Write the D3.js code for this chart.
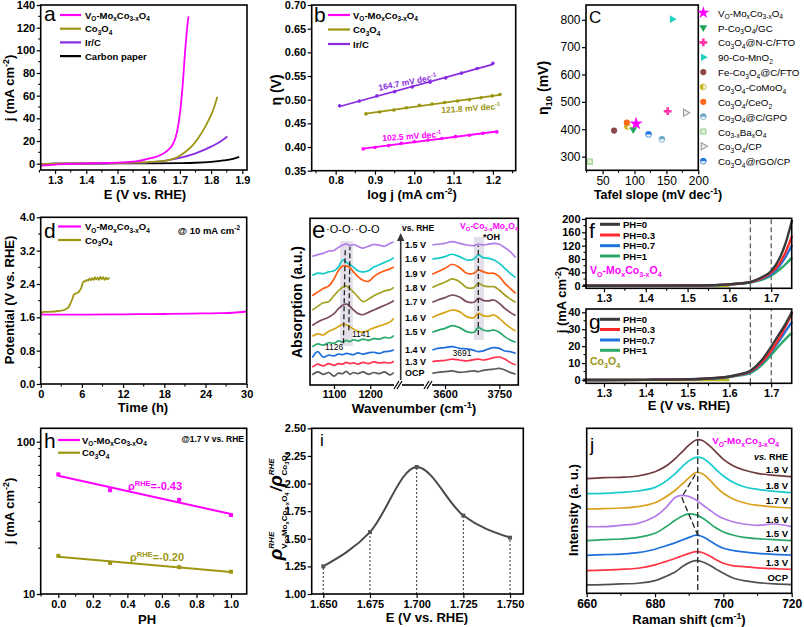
<!DOCTYPE html>
<html><head><meta charset="utf-8">
<script src="https://cdn.jsdelivr.net/npm/d3@7"></script>
<style>
body{margin:0;background:#fff}
svg{display:block;background:#fff}
</style></head><body>
<svg id="c" width="804" height="627"></svg>
<script>
// ---------------- DATA ----------------
// Panel a: LSV curves
const aVoE = [1.254,1.3,1.35,1.4,1.45,1.5,1.53,1.56,1.58,1.6,1.62,1.64,1.66,1.68,1.69,1.70,1.705,1.71,1.716,1.72,1.724,1.728];
const aVoJ = [-1.8,-0.8,-0.2,0.2,0.5,0.9,1.4,2.1,3.0,4.4,5.8,7.8,11.5,18.5,27,44,57,73,97,110,122,130];
const aCoE = [1.254,1.3,1.4,1.5,1.55,1.6,1.65,1.68,1.7,1.72,1.74,1.76,1.78,1.8,1.81,1.82];
const aCoJ = [-0.5,0,0.3,0.6,0.9,1.4,2.5,4.5,7,11,16,23,32,43,50,59];
const aIrE = [1.254,1.3,1.4,1.5,1.55,1.6,1.65,1.7,1.75,1.8,1.83,1.852];
const aIrJ = [-0.5,0,0.2,0.4,0.7,1.2,2.5,5,9,15,19.5,24];
const aCpE = [1.254,1.3,1.4,1.5,1.6,1.7,1.75,1.8,1.84,1.87,1.89];
const aCpJ = [-0.3,0,0.1,0.2,0.3,0.5,0.8,1.6,2.8,4.3,6];
const aNames = ["V_{O}-Mo_{x}Co_{3-x}O_{4}","Co_{3}O_{4}","Ir/C","Carbon paper"];
// Panel b: Tafel
const bVoX = [0.87,0.90,0.935,0.967,1.0,1.035,1.07,1.105,1.14,1.175,1.21];
const bVoY = [0.396,0.399,0.403,0.408,0.411,0.415,0.418,0.422,0.425,0.429,0.432];
const bCoX = [0.877,0.912,0.948,0.98,1.013,1.045,1.077,1.11,1.14,1.17,1.198,1.218];
const bCoY = [0.470,0.474,0.478,0.483,0.488,0.491,0.494,0.497,0.500,0.504,0.508,0.511];
const bIrX = [0.81,0.86,0.905,0.95,0.995,1.04,1.08,1.12,1.16,1.2];
const bIrY = [0.487,0.497,0.508,0.517,0.527,0.537,0.546,0.556,0.566,0.577];
const bSlopes = ["102.5 mV dec^{-1}","121.8 mV dec^{-1}","164.7 mV dec^{-1}"];
// Panel c: comparison
const cNames = ["V_{O}-Mo_{x}Co_{3-x}O_{4}","P-Co_{3}O_{4}/GC","Co_{3}O_{4}@N-C/FTO","90-Co-MnO_{2}","Fe-Co_{3}O_{4}@C/FTO","Co_{3}O_{4}-CoMoO_{4}","Co_{3}O_{4}/CeO_{2}","Co_{3}O_{4}@C/GPO","Co_{3-x}Ba_{x}O_{4}","Co_{3}O_{4}/CP","Co_{3}O_{4}@rGO/CP"];
const cTafel = [102.5,98,152,159,68,89,88,143,30,180,122];
const cEta = [420,399,466,802,395,410,424,363,282,460,381];
// Panel d: stability
const dVoT = [0,1,3,6,10,14,18,22,26,28,30];
const dVoV = [1.67,1.665,1.665,1.665,1.67,1.675,1.68,1.69,1.70,1.71,1.74];
const dCoT = [0,0.5,1,2,3,3.5,4,4.3,4.6,4.8,5,5.3,5.6,5.9,6.1,6.3,6.5,6.7,6.9,7.1,7.3,7.5,7.7,7.9,8.1,8.3,8.5,8.7,8.9,9.1,9.3,9.5,9.7,9.9,10];
const dCoV = [1.71,1.73,1.73,1.74,1.76,1.78,1.83,1.92,2.04,2.14,2.17,2.18,2.22,2.3,2.42,2.47,2.46,2.5,2.48,2.53,2.49,2.54,2.5,2.56,2.51,2.55,2.5,2.57,2.52,2.56,2.5,2.55,2.51,2.54,2.52];
// Panel e: in-situ FTIR (top to bottom)
const eWL = [1040,1055,1070,1085,1100,1112,1124,1134,1144,1154,1166,1180,1195,1210,1225,1240,1255,1265];
const eWR = [3565,3580,3600,3620,3640,3660,3680,3692,3705,3720,3735,3750,3765,3780,3795];
const eLabels = ["1.5 V","1.6 V","1.9 V","1.8 V","1.7 V","1.6 V","1.5 V","1.4 V","1.3 V","OCP"];
const eL = [
 [10.8,10.95,11.05,11.25,11.3,11.55,11.75,11.85,11.7,11.8,11.65,11.5,11.65,11.8,11.75,11.65,11.9,12.0],
 [9.2,9.4,9.35,9.5,9.6,9.9,10.5,10.3,10.1,9.9,9.6,9.5,9.6,9.9,10.1,10.3,10.5,10.7],
 [7.5,7.8,8.1,8.3,8.9,9.6,10.0,10.0,9.85,9.5,9.1,8.8,8.7,9.1,9.4,9.6,9.75,9.9],
 [6.3,6.6,6.9,7.0,7.5,7.9,8.2,8.3,8.1,7.8,7.4,7.0,7.2,7.5,7.7,7.9,8.0,8.2],
 [5.0,5.3,5.5,5.7,6.0,6.4,6.7,6.8,6.6,6.3,6.0,5.9,6.1,6.3,6.5,6.7,6.9,7.1],
 [4.1,4.3,4.2,4.5,4.7,4.9,5.1,5.05,4.9,4.7,4.5,4.45,4.6,4.8,4.95,5.1,5.3,5.6],
 [3.2,3.45,3.35,3.55,3.5,3.7,3.6,3.75,3.65,3.8,3.7,3.85,3.75,3.9,3.85,4.0,3.95,4.15],
 [2.3,2.8,2.35,2.5,2.45,2.6,2.55,2.65,2.6,2.55,2.7,2.6,2.7,2.75,2.65,2.8,2.85,2.95],
 [1.5,1.75,1.6,1.8,1.65,1.8,1.75,1.9,1.8,1.85,1.75,1.9,1.8,1.95,1.85,1.9,1.85,2.0],
 [0.85,1.1,0.9,1.05,0.75,1.0,0.95,1.15,0.9,1.05,0.95,1.1,0.9,1.05,0.95,1.1,0.85,1.05]
];
const eR = [
 [11.76,11.82,11.9,12.04,11.9,11.76,11.71,11.82,11.76,11.82,11.9,11.82,11.54,11.2,10.7],
 [10.59,10.64,10.78,10.98,10.78,10.5,10.59,10.92,10.7,10.64,10.5,10.22,9.8,9.38,9.02],
 [9.3,9.52,9.8,10.14,9.86,9.38,9.38,9.66,9.52,9.38,9.38,9.1,8.54,8.12,7.7],
 [8.18,8.4,8.63,8.91,8.68,8.18,8.18,8.54,8.35,8.26,8.26,7.98,7.56,7.23,6.95],
 [6.95,7.14,7.34,7.56,7.39,7.0,6.95,7.28,7.11,7.06,7.14,6.86,6.44,6.1,5.83],
 [5.66,5.88,6.1,6.3,6.16,5.74,5.66,6.02,5.83,5.77,5.88,5.6,5.18,4.82,4.54],
 [4.43,4.59,4.76,4.99,4.82,4.48,4.43,4.82,4.62,4.54,4.62,4.43,4.06,3.78,3.59],
 [2.94,3.08,3.14,3.22,3.08,3.03,2.91,2.8,2.86,3.03,3.14,3.08,2.86,2.8,2.66],
 [1.96,2.02,2.07,2.18,2.1,2.02,2.13,2.18,2.1,2.18,2.3,2.35,2.18,1.9,1.68],
 [0.98,1.06,1.12,1.18,1.06,1.12,1.18,1.12,1.23,1.29,1.34,1.4,1.26,1.06,0.9]
];
// Panel f/g: pH dependent LSV
const fgE = [1.25,1.3,1.4,1.5,1.55,1.6,1.625,1.65,1.675,1.7,1.72,1.735,1.75];
const fgNames = ["PH=0","PH=0.3","PH=0.7","PH=1"];
const fJ = [
 [0,0,0.2,0.6,1.5,4,6.5,11,24,44,82,130,197],
 [0,0,0.2,0.6,1.5,4,6.5,10.5,21,39,67,102,150],
 [0,0,0.2,0.6,1.5,4,6.3,10,19.5,35,60,88,122],
 [0,0,0.2,0.6,1.5,3.8,6,9.5,17,30,48,65,85]
];
const gJ = [
 [0,0,0.1,0.4,0.9,2.1,3.4,5.5,11,19.7,27.5,33.5,40.5],
 [0,0,0.1,0.4,0.9,2.0,3.2,5.0,9.8,17.3,25,32,39.5],
 [0,0,0.1,0.4,0.9,1.9,3.0,4.6,9.3,16.7,23.5,29,34.5],
 [0,0,0.1,0.4,0.8,1.8,2.7,4.0,8.3,14.8,20.5,24.5,28]
];
const fgMarks = [1.65,1.70];
// Panel h
const hPH = [0,0.3,0.7,1.0];
const hVo = [61,48,41.5,33];
const hCo = [17.8,16.0,15.0,14.0];
// Panel i
const iE = [1.65,1.675,1.70,1.725,1.75];
const iR = [1.25,1.56,2.15,1.71,1.51];
// Panel j: Raman (bottom to top)
const jX = [660,665,670,675,680,683,686,688,690,692,694,696,698,700,703,706,710,715,720];
const jLabels = ["OCP","1.3 V","1.4 V","1.5 V","1.6 V","1.7 V","1.8 V","1.9 V"];
const jI = [
 [0.51,0.53,0.57,0.61,0.77,1.01,1.31,1.62,1.86,1.98,1.9,1.7,1.45,1.21,0.91,0.77,0.65,0.57,0.53],
 [1.37,1.41,1.45,1.52,1.72,1.92,2.12,2.28,2.42,2.53,2.46,2.26,2.02,1.82,1.66,1.62,1.54,1.49,1.45],
 [2.3,2.34,2.38,2.46,2.67,2.87,3.07,3.23,3.39,3.52,3.43,3.19,2.93,2.73,2.59,2.51,2.42,2.36,2.32],
 [3.19,3.25,3.29,3.39,3.64,4.0,4.44,4.69,4.81,4.75,4.55,4.24,3.94,3.72,3.52,3.39,3.31,3.25,3.19],
 [4.04,4.04,4.12,4.24,4.65,5.15,5.82,5.94,5.86,5.66,5.35,5.05,4.75,4.53,4.32,4.2,4.12,4.2,4.04],
 [5.11,5.13,5.17,5.25,5.49,5.82,6.26,6.63,7.01,7.33,7.23,6.87,6.42,6.06,5.7,5.49,5.33,5.23,5.17],
 [6.04,6.06,6.12,6.2,6.42,6.77,7.27,7.68,8.04,8.24,8.18,7.88,7.47,7.11,6.71,6.46,6.3,6.18,6.1],
 [6.95,7.01,7.03,7.11,7.37,7.68,8.18,8.59,8.99,9.29,9.25,8.93,8.53,8.12,7.72,7.47,7.27,7.15,7.07]
];
const jPeakPath = [[692.6,3.47],[687.8,5.82],[691.8,7.2]];

// ---------------- HELPERS ----------------
const FF = '"Liberation Sans", Arial, Helvetica, sans-serif';
const svg = d3.select('#c');
const MAG = '#ff00ff', OLV = '#9c9612', PUR = '#8a2be2';

function rich(t, str, fs) {
  const parts = str.split(/(_\{[^}]*\}|\^\{[^}]*\})/).filter(s => s.length);
  let shift = 0;
  parts.forEach(p => {
    let ns = 0, size = fs, c = p;
    if (p.startsWith('_{')) { ns = 0.28 * fs; size = 0.68 * fs; c = p.slice(2, -1); }
    else if (p.startsWith('^{')) { ns = -0.4 * fs; size = 0.68 * fs; c = p.slice(2, -1); }
    t.append('tspan').attr('dy', ns - shift).attr('font-size', size).text(c);
    shift = ns;
  });
}
function txt(x, y, str, o = {}) {
  const fs = o.fs || 12;
  const t = svg.append('text').attr('x', x).attr('y', y)
    .attr('font-family', FF).attr('font-size', fs)
    .attr('font-weight', o.fw || 'bold').attr('fill', o.fill || '#000')
    .attr('text-anchor', o.anchor || 'start');
  if (o.style) t.attr('font-style', o.style);
  if (o.rot) t.attr('transform', `rotate(${o.rot},${x},${y})`);
  rich(t, str, fs);
  return t;
}
function styleAxis(g, fs, fw) {
  g.attr('font-family', FF).attr('font-size', fs).attr('font-weight', fw);
  g.select('.domain').remove();
  g.selectAll('line').attr('stroke', '#000').attr('stroke-width', 1.2);
  g.selectAll('text').attr('fill', '#000');
}
function axes(x, y, o) {
  const [x0, x1] = x.range(), [y0, y1] = y.range();
  const fs = o.fs || 11, fw = o.fw || 'bold';
  if (o.xt) {
    const g = svg.append('g').attr('transform', `translate(0,${y0})`)
      .call(d3.axisBottom(x).tickValues(o.xt).tickFormat(o.xf || d3.format('d')).tickSize(4).tickPadding(2).tickSizeOuter(0));
    styleAxis(g, fs, fw);
    if (o.xm) g.selectAll('line.mn').data(o.xm).enter().append('line').attr('class', 'mn')
      .attr('x1', d => x(d)).attr('x2', d => x(d)).attr('y1', 0).attr('y2', 2.5).attr('stroke', '#000').attr('stroke-width', 1.1);
  }
  if (o.yt) {
    const g = svg.append('g').attr('transform', `translate(${x0},0)`)
      .call(d3.axisLeft(y).tickValues(o.yt).tickFormat(o.yf || d3.format('d')).tickSize(4).tickPadding(1.5).tickSizeOuter(0));
    styleAxis(g, fs, fw);
    if (o.ym) g.selectAll('line.mn').data(o.ym).enter().append('line').attr('class', 'mn')
      .attr('y1', d => y(d)).attr('y2', d => y(d)).attr('x1', 0).attr('x2', -2.5).attr('stroke', '#000').attr('stroke-width', 1.1);
  }
  svg.append('rect').attr('x', x0).attr('y', y1).attr('width', x1 - x0).attr('height', y0 - y1)
    .attr('fill', 'none').attr('stroke', '#000').attr('stroke-width', 1.6);
}
function path(xs, ys, x, y, color, w, curve, extra) {
  const line = d3.line().x(d => x(d[0])).y(d => y(d[1])).curve(curve || d3.curveLinear);
  const p = svg.append('path').datum(xs.map((v, i) => [v, ys[i]])).attr('d', line)
    .attr('fill', 'none').attr('stroke', color).attr('stroke-width', w || 2).attr('stroke-linejoin', 'round');
  if (extra) p.attr('stroke-dasharray', extra);
  return p;
}
function legLine(x1, x2, y, color, w) {
  svg.append('line').attr('x1', x1).attr('x2', x2).attr('y1', y).attr('y2', y).attr('stroke', color).attr('stroke-width', w || 2.2);
}
function fit(xs, ys) {
  const mx = d3.mean(xs), my = d3.mean(ys);
  let sxy = 0, sxx = 0;
  xs.forEach((v, i) => { sxy += (v - mx) * (ys[i] - my); sxx += (v - mx) * (v - mx); });
  const b = sxy / sxx; return [b, my - b * mx];
}

// ---------------- PANEL a ----------------
{
  const x = d3.scaleLinear([1.254, 1.915], [40.7, 247]);
  const y = d3.scaleLinear([-5.6, 140], [170, 5]);
  const cv = d3.curveMonotoneX;
  path(aCpE, aCpJ, x, y, '#000', 1.8, cv);
  path(aIrE, aIrJ, x, y, PUR, 1.8, cv);
  path(aCoE, aCoJ, x, y, OLV, 1.8, cv);
  path(aVoE, aVoJ, x, y, MAG, 1.8, cv);
  axes(x, y, { xt: [1.3,1.4,1.5,1.6,1.7,1.8,1.9], xf: d3.format('.1f'), xm: [1.25,1.35,1.45,1.55,1.65,1.75,1.85],
    yt: [0,20,40,60,80,100,120,140], ym: [10,30,50,70,90,110,130] });
  const cols = [MAG, OLV, PUR, '#000'];
  aNames.forEach((n, i) => { const yy = 15 + i * 13.7; legLine(60, 81, yy, cols[i], 2.2); txt(85, yy + 3.5, n, { fs: 9.5 }); });
  txt(44, 21, 'a', { fs: 21, fw: 'normal' });
  txt(145, 199, 'E (V vs. RHE)', { fs: 13, anchor: 'middle' });
  txt(14, 88, 'j (mA cm^{-2})', { fs: 13, anchor: 'middle', rot: -90 });
}
// ---------------- PANEL b ----------------
{
  const x = d3.scaleLinear([0.739, 1.258], [311.7, 515.7]);
  const y = d3.scaleLinear([0.35, 0.70], [170.7, 5]);
  const sets = [[bVoX, bVoY, MAG], [bCoX, bCoY, OLV], [bIrX, bIrY, PUR]];
  sets.forEach(([xs, ys, c]) => {
    const [b, a] = fit(xs, ys); const xe = d3.extent(xs);
    path(xe, xe.map(v => a + b * v), x, y, c, 1.8);
    svg.append('g').selectAll('circle').data(xs).enter().append('circle')
      .attr('cx', d => x(d)).attr('cy', (d, i) => y(ys[i])).attr('r', 1.8).attr('fill', c);
  });
  axes(x, y, { xt: [0.8,0.9,1.0,1.1,1.2], xf: d3.format('.1f'), xm: [0.75,0.85,0.95,1.05,1.15,1.25],
    yt: [0.35,0.40,0.45,0.50,0.55,0.60,0.65,0.70], yf: d3.format('.2f') });
  const cols = [MAG, OLV, PUR]; const nm = aNames.slice(0, 3);
  nm.forEach((n, i) => { const yy = 15 + i * 14.5; legLine(328, 350, yy, cols[i], 2.2); txt(353, yy + 3.5, n, { fs: 9.5 }); });
  txt(412, 139, bSlopes[0], { fs: 8.5, fill: MAG, anchor: 'middle', rot: -4 });
  txt(471, 111, bSlopes[1], { fs: 8.5, fill: OLV, anchor: 'middle', rot: -4 });
  txt(408, 85, bSlopes[2], { fs: 8.5, fill: PUR, anchor: 'middle', rot: -11 });
  txt(314, 22, 'b', { fs: 21, fw: 'normal' });
  txt(412, 199, 'log j (mA cm^{-2})', { fs: 13, anchor: 'middle' });
  txt(281, 90, 'η (V)', { fs: 14, anchor: 'middle', rot: -90 });
}
// ---------------- PANEL c ----------------
{
  const x = d3.scaleLinear([24, 200], [586, 698.3]);
  const y = d3.scaleLinear([250, 854], [170.3, 5]);
  const cols = [MAG,'#21a35a','#ff33aa','#22d0c0','#8e4a4a','#c9b81c','#ff6a1a','#6aa7c9','#9fd39a','#9a9a9a','#2277dd'];
  const types = ['star','tridown','cross','triright','circle','halfL','circle','halfT','square','trirightH','halfT'];
  function mk(g, t, c) {
    if (t === 'star') g.append('path').attr('d', d3.symbol(d3.symbolStar, 48)()).attr('fill', c);
    else if (t === 'tridown') g.append('path').attr('d', d3.symbol(d3.symbolTriangle, 26)()).attr('transform', 'rotate(180)').attr('fill', c);
    else if (t === 'triright') g.append('path').attr('d', d3.symbol(d3.symbolTriangle, 26)()).attr('transform', 'rotate(90)').attr('fill', c);
    else if (t === 'trirightH') g.append('path').attr('d', d3.symbol(d3.symbolTriangle, 22)()).attr('transform', 'rotate(90)').attr('fill', '#eee').attr('stroke', c).attr('stroke-width', 1.1);
    else if (t === 'cross') g.append('path').attr('d', d3.symbol(d3.symbolCross, 34)()).attr('fill', c);
    else if (t === 'square') g.append('path').attr('d', d3.symbol(d3.symbolSquare, 24)()).attr('fill', '#e6f3d8').attr('stroke', c).attr('stroke-width', 1.3);
    else if (t === 'circle') g.append('circle').attr('r', 3.1).attr('fill', c);
    else if (t === 'halfL' || t === 'halfT') {
      g.append('circle').attr('r', 2.9).attr('fill', '#f4f4f4').attr('stroke', c).attr('stroke-width', 0.8);
      g.append('path').attr('d', 'M-3.1,0 A3.1,3.1 0 0 1 3.1,0 Z').attr('fill', c).attr('transform', t === 'halfL' ? 'rotate(-90)' : null);
    }
  }
  cTafel.forEach((v, i) => mk(svg.append('g').attr('transform', `translate(${x(v)},${y(cEta[i])})`), types[i], cols[i]));
  mk(svg.append('g').attr('transform', `translate(${x(cTafel[0])},${y(cEta[0])})`), 'star', MAG);
  axes(x, y, { xt: [50,100,150,200], xm: [25,75,125,175], yt: [300,400,500,600,700,800], fs: 12, fw: 'normal' });
  cNames.forEach((n, i) => {
    const yy = 12.7 + i * 14.85;
    mk(svg.append('g').attr('transform', `translate(703.3,${yy})`), types[i], cols[i]);
    txt(718, yy + 4, n, { fs: 9.8, fw: 'normal' });
  });
  txt(589, 23, 'C', { fs: 17, fw: 'normal' });
  txt(658, 199, 'Tafel slope (mV dec^{-1})', { fs: 12.5, anchor: 'middle' });
  txt(548, 88, 'η_{10} (mV)', { fs: 14, anchor: 'middle', rot: -90 });
}
// ---------------- PANEL d ----------------
{
  const x = d3.scaleLinear([0, 30], [40.7, 246.7]);
  const y = d3.scaleLinear([0, 4], [384, 217.3]);
  path(dCoT, dCoV, x, y, OLV, 1.8);
  path(dVoT, dVoV, x, y, MAG, 1.8, d3.curveMonotoneX);
  axes(x, y, { xt: [0,6,12,18,24,30], xm: [3,9,15,21,27], yt: [0,0.8,1.6,2.4,3.2,4.0], yf: d3.format('.1f'), ym: [0.4,1.2,2.0,2.8,3.6] });
  legLine(58, 81, 226.5, MAG, 2.2); txt(85, 230, aNames[0], { fs: 9.5 });
  legLine(58, 81, 240, OLV, 2.2); txt(85, 243.5, aNames[1], { fs: 9.5 });
  txt(240, 234, '@ 10 mA cm^{-2}', { fs: 9.5, anchor: 'end' });
  txt(44, 238, 'd', { fs: 21, fw: 'normal' });
  txt(143, 412, 'Time (h)', { fs: 13, anchor: 'middle' });
  txt(14, 300, 'Potential (V vs. RHE)', { fs: 13, anchor: 'middle', rot: -90 });
}
// ---------------- PANEL e ----------------
{
  const xl = d3.scaleLinear([1033.7, 1276.8], [310, 398]);
  const xr = d3.scaleLinear([3553, 3802.5], [428, 518.3]);
  const y = d3.scaleLinear([0, 14], [385, 218.3]);
  const cols = ['#b07ee6','#16c9c9','#ff5a12','#a3a023','#7b4a5c','#d9a316','#25a86a','#1f6fdc','#ff3350','#5a5a5a'];
  svg.append('rect').attr('x', xl(1117)).attr('y', 241).attr('width', xl(1152) - xl(1117)).attr('height', 105).attr('fill', '#e3e0ea');
  svg.append('rect').attr('x', xr(3680)).attr('y', 237).attr('width', xr(3708) - xr(3680)).attr('height', 103).attr('fill', '#e3e0ea');
  const cv = d3.curveCatmullRom;
  eL.forEach((c, i) => path(eWL, c, xl, y, cols[i], 1.7, cv));
  eR.forEach((c, i) => path(eWR, c, xr, y, cols[i], 1.7, cv));
  svg.append('line').attr('x1', xl(1126)).attr('y1', y(3.5)).attr('x2', xl(1131)).attr('y2', y(11.4)).attr('stroke', '#222').attr('stroke-width', 1.3).attr('stroke-dasharray', '5,3');
  svg.append('line').attr('x1', xl(1141)).attr('y1', y(4.6)).attr('x2', xl(1144)).attr('y2', y(11.6)).attr('stroke', '#222').attr('stroke-width', 1.3).attr('stroke-dasharray', '5,3');
  svg.append('line').attr('x1', xr(3692)).attr('y1', y(4.2)).attr('x2', xr(3692)).attr('y2', y(11.7)).attr('stroke', '#222').attr('stroke-width', 1.3).attr('stroke-dasharray', '5,3');
  const gl = svg.append('g').attr('transform', 'translate(0,385)').call(d3.axisBottom(xl).tickValues([1100,1200]).tickFormat(d3.format('d')).tickSize(4).tickPadding(1).tickSizeOuter(0));
  styleAxis(gl, 11, 'bold');
  const gr = svg.append('g').attr('transform', 'translate(0,385)').call(d3.axisBottom(xr).tickValues([3600,3750]).tickFormat(d3.format('d')).tickSize(4).tickPadding(1).tickSizeOuter(0));
  styleAxis(gr, 11, 'bold');
  svg.append('rect').attr('x', 310).attr('y', 218.3).attr('width', 208.3).attr('height', 166.7).attr('fill', 'none').attr('stroke', '#000').attr('stroke-width', 1.6);
  [398, 428].forEach(bx => {
    svg.append('rect').attr('x', bx - 4).attr('y', 381).attr('width', 8).attr('height', 8).attr('fill', '#fff');
    [-1.5, 1.5].forEach(d => svg.append('line').attr('x1', bx + d - 2.5).attr('y1', 389).attr('x2', bx + d + 2.5).attr('y2', 381).attr('stroke', '#000').attr('stroke-width', 1.2));
  });
  svg.append('line').attr('x1', 400.7).attr('x2', 400.7).attr('y1', 380).attr('y2', 240).attr('stroke', '#333').attr('stroke-width', 1.6);
  svg.append('path').attr('d', 'M397,241 L400.7,233 L404.4,241 Z').attr('fill', '#333');
  eLabels.forEach((l, i) => txt(405, y(eR[i][0]) + 3, l, { fs: 9 }));
  txt(402, 231, 'vs. RHE', { fs: 8.5 });
  txt(460, 229, 'V_{O}-Co_{3-x}Mo_{x}O_{4}', { fs: 8.5, fill: MAG });
  txt(483, 240, '*OH', { fs: 9 });
  txt(462, 356, '3691', { fs: 8.5, fw: 'normal', anchor: 'middle' });
  txt(352, 337, '1141', { fs: 8.5, fw: 'normal' });
  txt(325, 350, '1126', { fs: 8.5, fw: 'normal' });
  txt(326, 233, '·O-O·', { fs: 11, fw: 'normal' });
  txt(355, 233, '·O-O', { fs: 11, fw: 'normal' });
  txt(312, 238, 'e', { fs: 24, fw: 'normal' });
  txt(414, 413, 'Wavenumber (cm^{-1})', { fs: 13.5, anchor: 'middle' });
  txt(302, 302, 'Absorption (a.u.)', { fs: 14, anchor: 'middle', rot: -90 });
}
// ---------------- PANEL f & g ----------------
{
  const x = d3.scaleLinear([1.257, 1.749], [586, 791.7]);
  const yf = d3.scaleLinear([-7.8, 202], [288.3, 218.3]);
  const yg = d3.scaleLinear([-1.95, 41.95], [383.3, 309]);
  const cols = ['#3a3a3a', '#ff2a2a', '#1f72e0', '#2aa86a'];
  const cv = d3.curveMonotoneX;
  [[yf, fJ], [yg, gJ]].forEach(([y, data]) => {
    fgMarks.forEach(m => svg.append('line').attr('x1', x(m)).attr('x2', x(m)).attr('y1', y.range()[0]).attr('y2', y.range()[1])
      .attr('stroke', '#444').attr('stroke-width', 1.1).attr('stroke-dasharray', '5,3'));
    path([1.257, 1.6], [0, 0], x, y, '#b8b820', 2.4);
    for (let i = data.length - 1; i >= 0; i--) path(fgE, data[i], x, y, cols[i], 2.4, cv);
  });
  axes(x, yf, { xt: [1.3,1.4,1.5,1.6,1.7], xf: d3.format('.1f'), xm: [1.35,1.45,1.55,1.65], yt: [0,40,80,120,160,200], ym: [20,60,100,140,180] });
  axes(x, yg, { xt: [1.3,1.4,1.5,1.6,1.7], xf: d3.format('.1f'), xm: [1.35,1.45,1.55,1.65], yt: [0,10,20,30,40], ym: [5,15,25,35] });
  const fy = [224.3, 235, 245.7, 256], gy = [319.3, 329.5, 340, 350.3];
  fgNames.forEach((n, i) => {
    legLine(600, 620, fy[i], cols[i], 3); txt(623, fy[i] + 3.5, n, { fs: 9.5 });
    legLine(600, 620, gy[i], cols[i], 3); txt(623, gy[i] + 3.5, n, { fs: 9.5 });
  });
  txt(590, 274, 'V_{O}-Mo_{x}Co_{3-x}O_{4}', { fs: 10.5, fill: MAG });
  txt(590, 365, 'Co_{3}O_{4}', { fs: 10.5, fill: OLV });
  txt(589, 238, 'f', { fs: 21, fw: 'normal' });
  txt(589, 329, 'g', { fs: 21, fw: 'normal' });
  txt(689, 410, 'E (V vs. RHE)', { fs: 13, anchor: 'middle' });
  txt(566, 300, 'j (mA cm^{-2})', { fs: 13, anchor: 'middle', rot: -90 });
}
// ---------------- PANEL h ----------------
{
  const x = d3.scaleLinear([-0.102, 1.091], [40.7, 246.7]);
  const y = d3.scaleLog([10, 122.4], [594, 428.3]);
  [[hVo, MAG], [hCo, OLV]].forEach(([ys, c]) => {
    const ly = ys.map(v => Math.log10(v));
    const [b, a] = fit(hPH, ly);
    path([0, 1], [0, 1].map(v => Math.pow(10, a + b * v)), x, y, c, 2);
    svg.append('g').selectAll('rect').data(hPH).enter().append('rect')
      .attr('x', d => x(d) - 2).attr('y', (d, i) => y(ys[i]) - 2).attr('width', 4).attr('height', 4).attr('fill', c);
  });
  axes(x, y, { xt: [0,0.2,0.4,0.6,0.8,1.0], xf: d3.format('.1f'), xm: [-0.1,0.1,0.3,0.5,0.7,0.9],
    yt: [10,100], yf: d3.format('d'), ym: [20,30,40,50,60,70,80,90] });
  legLine(58, 80, 440, MAG, 2.2); txt(82, 443.5, aNames[0], { fs: 9.5 });
  legLine(58, 80, 452.7, OLV, 2.2); txt(82, 456.2, aNames[1], { fs: 9.5 });
  txt(244, 442, '@1.7 V vs. RHE', { fs: 8.5, anchor: 'end' });
  txt(128, 490, 'ρ^{RHE}=-0.43', { fs: 11, fill: MAG });
  txt(130, 561, 'ρ^{RHE}=-0.20', { fs: 11, fill: OLV });
  txt(44, 448, 'h', { fs: 21, fw: 'normal' });
  txt(147, 624, 'PH', { fs: 13, anchor: 'middle' });
  txt(14, 511, 'j (mA cm^{-2})', { fs: 13, anchor: 'middle', rot: -90 });
}
// ---------------- PANEL i ----------------
{
  const x = d3.scaleLinear([1.6438, 1.7571], [311.7, 523.3]);
  const y = d3.scaleLinear([1.0, 2.5], [594, 428.3]);
  iE.forEach((e, i) => svg.append('line').attr('x1', x(e)).attr('x2', x(e)).attr('y1', 594).attr('y2', y(iR[i]))
    .attr('stroke', '#333').attr('stroke-width', 1).attr('stroke-dasharray', '2,2'));
  path(iE, iR, x, y, '#4a4a4a', 2, d3.curveMonotoneX);
  svg.append('g').selectAll('rect').data(iE).enter().append('rect')
    .attr('x', d => x(d) - 2).attr('y', (d, i) => y(iR[i]) - 2).attr('width', 4).attr('height', 4).attr('fill', '#555');
  axes(x, y, { xt: [1.650,1.675,1.700,1.725,1.750], xf: d3.format('.3f'), yt: [1.0,1.25,1.5,1.75,2.0,2.25,2.5], yf: d3.format('.2f') });
  svg.append('text').attr('x', 320).attr('y', 446).attr('font-family', FF).attr('font-size', 17).text('i');
  txt(427, 622, 'E (V vs. RHE)', { fs: 13, anchor: 'middle' });
  const t = svg.append('text').attr('x', 282).attr('y', 506).attr('text-anchor', 'middle')
    .attr('transform', 'rotate(-90,282,506)').attr('font-family', FF).attr('font-weight', 'bold');
  const add = (s, fs, dy, dx, it) => { const sp = t.append('tspan').attr('font-size', fs).attr('dy', dy).text(s); if (dx) sp.attr('dx', dx); if (it) sp.attr('font-style', 'italic'); return sp; };
  add('ρ', 19, 0, 0, true);
  add('RHE', 8, -8, 0, true);
  add('V', 8, 13, -17);
  add('O', 6, 2); add('-Mo', 8, -2); add('x', 6, 2); add('Co', 8, -2); add('3-x', 6, 2); add('O', 8, -2); add('4', 6, 2);
  add('/', 16, -7, 1, true);
  add('ρ', 19, 0, 0, true);
  add('RHE', 8, -8, 0, true);
  add('Co', 8, 13, -17); add('3', 6, 2); add('O', 8, -2); add('4', 6, 2);
}
// ---------------- PANEL j ----------------
{
  const x = d3.scaleLinear([660, 720], [586.7, 791.7]);
  const y = d3.scaleLinear([0, 10], [593.3, 428.3]);
  const cols = ['#505050','#ff3344','#1f6fdc','#2aa86a','#b57be8','#d9a11c','#18cccc','#6e3a3e'];
  jI.forEach((c, i) => path(jX, c, x, y, cols[i], 1.7, d3.curveCatmullRom));
  svg.append('line').attr('x1', x(692.5)).attr('x2', x(692.5)).attr('y1', 590).attr('y2', 430)
    .attr('stroke', '#222').attr('stroke-width', 1.3).attr('stroke-dasharray', '6,3');
  path(jPeakPath.map(d => d[0]), jPeakPath.map(d => d[1]), x, y, '#222', 1.3, d3.curveLinear, '6,3');
  axes(x, y, { xt: [660,680,700,720], xm: [670,690,710], fs: 12 });
  jLabels.forEach((l, i) => txt(788, y(jI[i][jI[i].length - 1]) - 3.5, l, { fs: 9.5, anchor: 'end' }));
  txt(779, 444, 'V_{O}-Mo_{x}Co_{3-x}O_{4}', { fs: 9.8, fill: MAG, anchor: 'end' });
  const vs = svg.append('text').attr('x', 788).attr('y', 460).attr('text-anchor', 'end').attr('font-family', FF).attr('font-size', 9).attr('font-weight', 'bold');
  vs.append('tspan').attr('font-style', 'italic').text('vs.'); vs.append('tspan').text(' RHE');
  txt(590, 451, 'j', { fs: 19, fw: 'normal' });
  txt(689, 624, 'Raman shift (cm^{-1})', { fs: 13, anchor: 'middle' });
  txt(578, 510, 'Intensity (a. u.)', { fs: 13, anchor: 'middle', rot: -90 });
}
</script>
</body></html>
